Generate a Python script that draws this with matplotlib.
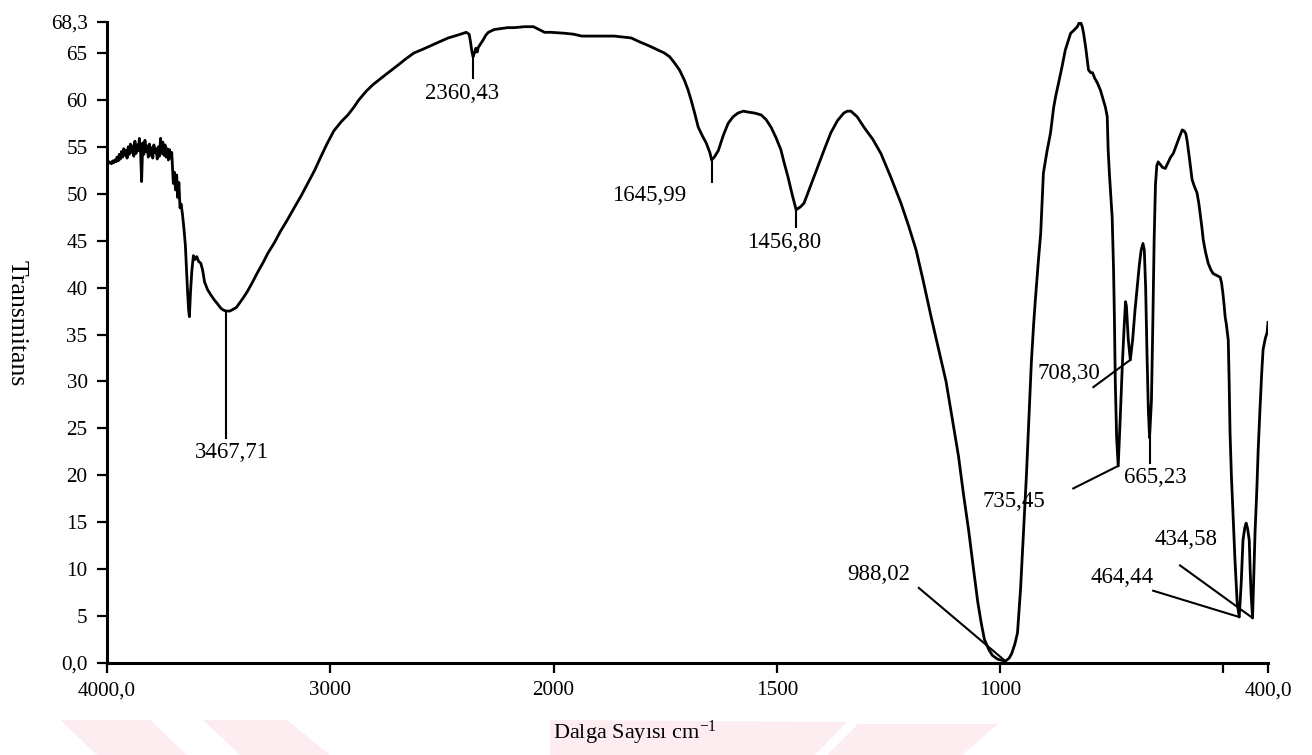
#--Importing--#
import numpy as np
import matplotlib
matplotlib.use("Agg")
import matplotlib.pyplot as plt
from matplotlib.patches import Polygon

#--1. Spectrum data (wavenumber cm-1, transmittance %)--#
wavenumber = [
    4000, 3995, 3990, 3985, 3980, 3975, 3970, 3965, 3960, 3955, 3950, 3945, 3940, 3935,
    3930, 3925, 3920, 3915, 3910, 3905, 3900, 3895, 3890, 3885, 3880, 3875, 3870, 3865,
    3860, 3855, 3850, 3845, 3840, 3835, 3830, 3825, 3820, 3815, 3810, 3805, 3800, 3795,
    3790, 3785, 3780, 3775, 3770, 3765, 3760, 3755, 3750, 3745, 3740, 3735, 3730, 3725,
    3720, 3715, 3710, 3703, 3698, 3693, 3688, 3683, 3678, 3673, 3668, 3662, 3655, 3649,
    3644, 3640, 3635, 3631, 3626, 3620, 3613, 3606, 3598, 3590, 3580, 3572, 3563, 3550,
    3537, 3520, 3506, 3490, 3478, 3467.71, 3450, 3434, 3420, 3405, 3390, 3371, 3350, 3326,
    3300, 3281, 3250, 3223, 3195, 3164, 3130, 3101, 3070, 3043, 3015, 2984, 2950, 2921,
    2895, 2872, 2840, 2810, 2773, 2735, 2697, 2660, 2625, 2585, 2548, 2510, 2472, 2430,
    2391, 2378, 2372, 2366, 2360.43, 2354, 2348, 2342, 2337, 2326, 2315, 2303, 2292, 2265,
    2234, 2205, 2175, 2130, 2090, 2065, 2040, 2010, 1975, 1955, 1937, 1900, 1864, 1845,
    1826, 1808, 1788, 1770, 1752, 1740, 1730, 1718, 1707, 1699, 1692, 1684, 1676, 1667,
    1658, 1650, 1645.99, 1640, 1631, 1620, 1609, 1598, 1587, 1575, 1564, 1550, 1535, 1524,
    1513, 1502, 1491, 1483, 1475, 1466, 1456.80, 1447, 1439, 1424, 1408, 1393, 1379, 1364,
    1350, 1342, 1334, 1320, 1305, 1285, 1267, 1245, 1222, 1205, 1188, 1172, 1155, 1138,
    1121, 1107, 1093, 1082, 1070, 1060, 1050, 1042, 1035, 1025, 1017, 1005, 988.02, 980,
    974, 967, 961, 954, 947, 941, 935, 930, 925, 921, 914, 909, 903, 895,
    887, 880, 875, 869, 861, 854, 848, 842, 835, 827, 823, 820, 816, 813,
    808, 802, 797, 793, 788, 782, 775, 769, 764, 760, 758, 755, 753, 749,
    746, 744, 742, 739, 735.45, 731, 726, 722, 719, 717, 713, 708.30, 703, 698,
    693, 688, 684, 680, 677, 674, 671, 668, 665.23, 661, 658, 655, 652, 649,
    646, 641, 636, 630, 625, 618, 612, 605, 598, 592, 588, 584, 581, 576,
    570, 565, 559, 555, 552, 548, 545, 540, 534, 528, 523, 515, 507, 504,
    501, 498, 496, 493, 489, 487, 485, 482, 478, 474, 469, 464.44, 460, 456,
    452, 449, 446, 442, 440, 438, 434.58, 432, 429, 425, 422, 418, 414, 411,
    406, 402, 400,
]
transmittance = [
    53.3, 53.2, 53.4, 53.3, 53.2, 53.5, 53.3, 53.6, 53.4, 53.9, 53.5, 54.2, 53.7, 54.5,
    53.9, 54.8, 54.1, 54.6, 53.8, 55.0, 54.2, 55.3, 54.4, 55.1, 54.0, 55.6, 54.3, 55.2,
    54.6, 55.9, 54.8, 51.3, 55.4, 54.2, 55.7, 54.5, 55.1, 53.9, 55.3, 54.1, 54.9, 53.8,
    55.2, 54.4, 54.8, 53.7, 55.0, 54.0, 55.9, 54.3, 55.5, 54.1, 55.2, 53.9, 54.8, 53.6,
    54.7, 53.8, 54.4, 51.1, 52.3, 50.4, 52.0, 49.6, 51.2, 48.5, 48.9, 47.8, 46.2, 44.5,
    42.0, 40.0, 37.8, 36.9, 39.5, 41.8, 43.4, 43.0, 43.3, 42.8, 42.6, 41.9, 40.6, 39.8,
    39.3, 38.7, 38.3, 37.8, 37.6, 37.5, 37.5, 37.7, 37.9, 38.4, 38.9, 39.6, 40.5, 41.6,
    42.7, 43.6, 44.8, 46.0, 47.1, 48.4, 49.8, 51.1, 52.5, 53.9, 55.3, 56.7, 57.7, 58.4,
    59.2, 60.0, 60.9, 61.6, 62.3, 63.0, 63.7, 64.4, 65.0, 65.4, 65.8, 66.2, 66.6, 66.9,
    67.2, 67.0, 66.2, 65.2, 64.6, 65.0, 65.5, 65.1, 65.6, 66.0, 66.4, 66.9, 67.2, 67.5,
    67.6, 67.7, 67.7, 67.8, 67.8, 67.5, 67.2, 67.2, 67.1, 67.0, 66.8, 66.8, 66.8, 66.7,
    66.6, 66.2, 65.8, 65.4, 65.0, 64.6, 64.0, 63.2, 62.1, 61.1, 60.0, 58.6, 57.1, 56.2,
    55.4, 54.4, 53.6, 53.9, 54.6, 56.2, 57.5, 58.2, 58.6, 58.8, 58.7, 58.6, 58.4, 57.9,
    57.1, 56.0, 54.7, 53.2, 51.8, 50.0, 48.3, 48.6, 49.0, 50.9, 52.9, 54.8, 56.5, 57.8,
    58.6, 58.8, 58.8, 58.2, 57.1, 55.8, 54.3, 51.8, 49.0, 46.6, 44.0, 40.7, 37.0, 33.5,
    30.0, 26.0, 22.0, 18.0, 14.0, 10.2, 6.5, 4.2, 2.5, 1.4, 0.8, 0.4, 0.2, 0.5,
    1.0, 2.0, 3.2, 8.0, 14.5, 20.0, 26.5, 32.0, 36.0, 38.7, 43.0, 45.8, 52.2, 54.5,
    56.5, 59.2, 60.5, 61.8, 63.6, 65.3, 66.2, 67.1, 67.4, 67.8, 68.2, 68.3, 67.8, 67.1,
    65.5, 63.2, 62.9, 62.9, 62.3, 61.8, 61.0, 60.0, 59.2, 58.2, 54.7, 52.0, 50.5, 47.5,
    42.2, 36.9, 30.0, 24.0, 21.0, 26.0, 32.0, 36.0, 38.5, 38.0, 34.5, 32.3, 34.5, 37.5,
    40.0, 42.5, 44.0, 44.7, 44.0, 40.0, 33.0, 27.0, 24.0, 28.0, 36.0, 45.0, 51.0, 53.0,
    53.4, 53.1, 52.8, 52.7, 53.2, 53.9, 54.3, 55.2, 56.1, 56.8, 56.7, 56.4, 55.6, 53.8,
    51.5, 50.8, 50.1, 49.0, 47.9, 46.4, 45.1, 43.8, 42.6, 41.9, 41.5, 41.3, 41.1, 40.5,
    39.4, 38.0, 36.9, 36.0, 34.4, 30.0, 24.5, 20.0, 15.6, 11.0, 6.4, 4.9, 8.5, 13.1,
    14.4, 14.9, 14.4, 13.1, 10.0, 7.5, 4.8, 9.0, 13.9, 18.5, 22.7, 27.0, 31.0, 33.4,
    34.6, 35.2, 36.3,
]

# labelled band positions
peaks = [3467.71, 2360.43, 1645.99, 1456.80, 988.02, 735.45, 708.30, 665.23, 464.44, 434.58]

# axis ticks
x_ticks = [4000, 3000, 2000, 1500, 1000, 500, 400]
x_ticklabels = ["4000,0", "3000", "2000", "1500", "1000", "", "400,0"]
y_ticks = [0, 5, 10, 15, 20, 25, 30, 35, 40, 45, 50, 55, 60, 65, 68.3]
y_ticklabels = ["0,0", "5", "10", "15", "20", "25", "30", "35", "40", "45", "50", "55", "60", "65", "68,3"]

#--2. Label layout: (leader start x, leader start y, text x, text y)--#
label_layout = {
    3467.71: (3467.71, 24.0, 3440, 22.4),
    2360.43: (2360.43, 62.3, 2409, 60.7),
    1645.99: (1645.99, 51.2, 1785, 49.8),
    1456.80: (1456.80, 46.5, 1484, 44.8),
    988.02: (1182, 8.0, 1271, 9.4),
    735.45: (836, 18.6, 970, 17.2),
    708.30: (791, 29.4, 847, 30.9),
    665.23: (665.23, 21.3, 653, 19.8),
    464.44: (657, 7.7, 726, 9.1),
    434.58: (597, 10.4, 583, 13.2),
}


# 2x expanded scale below 2000 cm-1
def fwd(x):
    x = np.asarray(x, dtype=float)
    return np.where(x <= 2000, 2 * x, x + 2000)


def inv(u):
    u = np.asarray(u, dtype=float)
    return np.where(u <= 4000, u / 2, u - 2000)


#--3. Plot--#
def main():
    plt.rcParams["font.family"] = ["Liberation Serif", "DejaVu Serif"]
    plt.rcParams["mathtext.default"] = "regular"

    W, H = 1312, 755
    fig = plt.figure(figsize=(W / 100, H / 100), dpi=100)

    # faint watermark blocks along the bottom edge
    wm = [
        [(60, 720), (150, 720), (187, 755), (97, 755)],
        [(203, 720), (287, 720), (330, 755), (240, 755)],
        [(550, 720), (847, 722), (815, 755), (550, 755)],
        [(858, 724), (998, 724), (962, 755), (827, 755)],
    ]
    for poly in wm:
        pts = [(px / W, 1 - py / H) for px, py in poly]
        fig.add_artist(Polygon(pts, closed=True, transform=fig.transFigure,
                               facecolor="#fdedf0", edgecolor="none", zorder=0))

    ax = fig.add_axes([107 / W, 1 - 663 / H, (1268 - 107) / W, (663 - 22) / H])
    ax.set_xscale("function", functions=(fwd, inv))

    wn = np.array(wavenumber)
    tr = np.array(transmittance)
    ax.plot(wn, tr, color="black", lw=2.0, solid_joinstyle="round")

    # band labels with leader lines
    order = np.argsort(wn)
    for p in peaks:
        tip = np.interp(p, wn[order], tr[order])
        lx, ly, tx, ty = label_layout[p]
        ax.plot([lx, p], [ly, tip], color="black", lw=1.5)
        ax.text(tx, ty, f"{p:.2f}".replace(".", ","), fontsize=16.5,
                ha="center", va="center")

    ax.set_xlim(4000, 400)
    ax.set_ylim(0, 68.3)
    ax.set_xticks(x_ticks)
    ax.set_xticklabels(x_ticklabels)
    ax.set_yticks(y_ticks)
    ax.set_yticklabels(y_ticklabels)
    ax.minorticks_off()
    ax.tick_params(axis="both", direction="out", length=7, width=1.6,
                   labelsize=15.2, color="black")
    ax.tick_params(axis="x", pad=6)
    ax.tick_params(axis="y", pad=7)

    for side in ("top", "right"):
        ax.spines[side].set_visible(False)
    for side in ("left", "bottom"):
        ax.spines[side].set_linewidth(2.2)
    ax.patch.set_alpha(0)

    fig.text(17 / W, 1 - 323 / H, "Transmitans", rotation=270,
             ha="center", va="center", fontsize=18.5)
    fig.text(635 / W, 1 - 733 / H, r"Dalga Sayısı cm$^{\mathregular{-1}}$",
             ha="center", va="center", fontsize=16)

    fig.savefig("out.png", dpi=100)


if __name__ == "__main__":
    main()
